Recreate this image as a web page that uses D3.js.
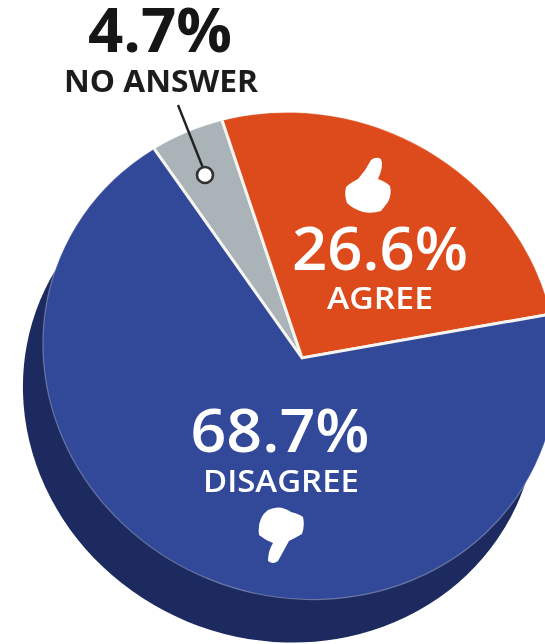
<!DOCTYPE html>
<html><head><meta charset="utf-8">
<script src="https://cdn.jsdelivr.net/npm/d3@7/dist/d3.min.js"></script>
<style>html,body{margin:0;padding:0;background:#fff}svg{display:block}
text{font-family:"Open Sans",sans-serif;text-anchor:middle}</style></head>
<body><svg id="c" width="545" height="644"></svg>
<script>
const categories=["NO ANSWER","AGREE","DISAGREE"];
const percents=[4.7,26.6,68.7];
const colors=["#aab4b8","#dd4c1a","#324999"];
const svg=d3.select("#c");
const defs=svg.append("defs");
defs.append("filter").attr("id","soft").attr("x",-0.1).attr("y",-0.1).attr("width",1.2).attr("height",1.2)
  .append("feGaussianBlur").attr("stdDeviation",0.6);
const discTf="matrix(257,6.09,6.43,243.5,300,356)";
const shadowTf="matrix(257,6.09,6.43,243.5,280,399)";
defs.append("clipPath").attr("id","disc").append("circle").attr("r",1).attr("transform",discTf);
const root=svg.append("g").attr("filter","url(#soft)");
root.append("circle").attr("r",1).attr("transform",shadowTf).attr("fill","#1c2b5e");
const pie=d3.pie().sort(null).startAngle(-36*Math.PI/180).endAngle(324*Math.PI/180);
const arc=d3.arc().innerRadius(0).outerRadius(800);
const discG=root.append("g").attr("clip-path","url(#disc)");
discG.append("g").attr("transform","matrix(1.0007,0.0524,-0.0136,0.9713,302,358)")
 .selectAll("path").data(pie(percents)).join("path")
 .attr("d",arc).attr("fill",(d,i)=>colors[i]).attr("stroke","#f6f4f0").attr("stroke-width",3);
root.append("circle").attr("r",1).attr("transform",discTf).attr("fill","none")
 .attr("stroke","#fff").attr("stroke-opacity",0.3).attr("stroke-width",1.2).attr("vector-effect","non-scaling-stroke");
// leader
root.append("line").attr("x1",178).attr("y1",105).attr("x2",203).attr("y2",168).attr("stroke","#222").attr("stroke-width",2.4);
root.append("circle").attr("cx",205).attr("cy",175).attr("r",8).attr("fill","#fff").attr("stroke","#333").attr("stroke-width",2.6);
// thumbs
root.append("path").attr("fill","#fff").attr("d","M371 160 Q376 156 381 159 Q384 166 378 179 Q386 182 390 186 Q392 194 388 202 L381 211 Q372 214 363 212 Q353 209 347 203 Q344 195 346 187 Q350 183 358 179 Q366 170 371 160Z");
root.append("path").attr("fill","#fff").attr("d","M268 510 Q280 504 291 512 Q299 514 303 517 Q305 526 302 534 Q295 538 289 541 Q283 552 278 561 Q273 565 268 561 Q268 551 273 543 Q265 540 259 535 Q257 518 268 510Z");
// labels
function t(s,x,y,size,len,fill,w){root.append("text").attr("x",x).attr("y",y).attr("font-size",size).attr("font-weight",w)
  .attr("textLength",len).attr("lengthAdjust","spacingAndGlyphs").attr("fill",fill).text(s);}
const pct=percents.map(p=>p.toFixed(1)+"%");
t(pct[0],160,52,60,144,"#141414",700);
t(categories[0],161,92,30,194,"#1c1c1c",700);
t(pct[1],380,270,60,176,"#fff",600);
t(categories[1],380,309,31,106,"#fff",600);
t(pct[2],280,452,60,179,"#fff",600);
t(categories[2],281,492,31,156,"#fff",600);
</script></body></html>
